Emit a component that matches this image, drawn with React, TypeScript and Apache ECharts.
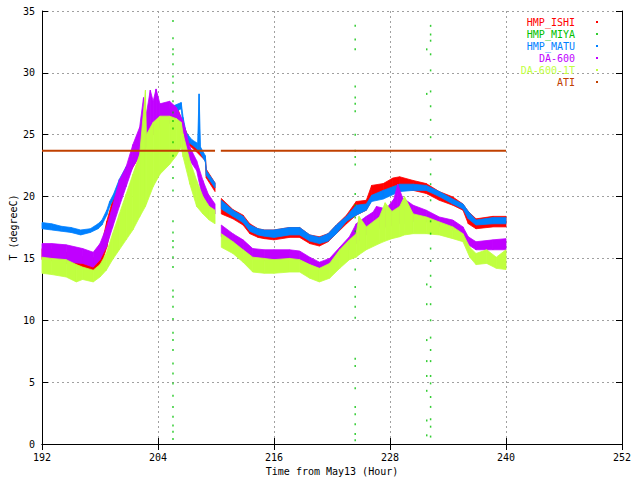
import React, { useEffect, useRef } from "react";
import * as echarts from "echarts";

const FONT = "'DejaVu Sans Mono', 'Liberation Mono', monospace";

const SERIES_NAMES = ["HMP_ISHI", "HMP_MIYA", "HMP_MATU", "DA-600", "DA-600-1T", "ATI"];
const SERIES_COLORS = ["#ff0000", "#00c000", "#0080ff", "#c000ff", "#c0ff40", "#c04000"];

// [hour, low, high] envelopes
const ISHI_A = [
  [192, 14.9, 15.8], [193, 14.8, 15.7], [194, 14.7, 15.6], [195, 14.5, 15.4], [196, 14.3, 15.2],
  [197, 14.0, 15.0], [197.6, 14.1, 15.1], [198.2, 14.7, 16.2], [198.7, 15.9, 18.0], [199.2, 17.8, 19.4],
  [199.6, 19.0, 20.4], [200, 20.2, 21.1], [201, 21.8, 22.6], [202, 23.2, 24.0], [203, 24.5, 25.3],
  [204, 25.5, 26.3], [205, 26.2, 27.0], [206, 26.4, 27.2], [206.6, 25.3, 25.9], [207.3, 24.1, 24.5],
  [208, 23.6, 23.9], [208.9, 22.9, 23.2], [209.0, 21.5, 22.2], [209.9, 20.4, 21.1],
];
const ISHI_B = [
  [210.55, 18.6, 19.85], [211.75, 18.2, 18.95], [212.8, 17.7, 18.5], [213.5, 17.0, 17.8], [214.35, 16.7, 17.4],
  [215, 16.6, 17.3], [216, 16.5, 17.3], [217.6, 16.7, 17.5], [218.65, 16.7, 17.5], [219.7, 16.2, 16.9],
  [220.7, 16.0, 16.75], [221.6, 16.35, 17.0], [222.45, 17.0, 17.7], [223.5, 17.8, 18.5], [224.5, 18.5, 19.6],
  [225.55, 18.9, 19.7], [226.1, 19.7, 20.9], [227.3, 19.97, 21.05], [228.3, 20.3, 21.5], [229, 20.65, 21.6],
  [230.4, 20.5, 21.3], [231.75, 20.25, 21.05], [233.1, 19.7, 20.4], [234.5, 19.3, 19.97], [235.55, 18.9, 19.4],
  [236.1, 17.8, 18.8], [236.9, 17.4, 18.2], [238.65, 17.55, 18.4], [240, 17.55, 18.4],
];

const MATU_A = [
  [192, 17.4, 17.9], [193, 17.3, 17.8], [194, 17.2, 17.6], [195, 17.1, 17.5], [196, 16.9, 17.3],
  [197, 17.1, 17.4], [197.8, 17.4, 17.8], [198.2, 17.7, 18.1], [198.7, 18.5, 18.9], [199.0, 19.2, 19.6],
  [199.4, 19.8, 20.2], [200, 20.9, 21.4], [200.7, 21.9, 22.4], [201.4, 22.6, 23.1], [202.1, 23.6, 24.1],
  [203.1, 24.9, 25.4], [204.0, 25.8, 26.3], [204.5, 26.1, 26.6], [205.5, 26.7, 27.3], [206.4, 27.1, 27.6],
  [206.6, 25.6, 26.4], [206.9, 24.5, 25.2], [207.5, 24.2, 24.6], [208.1, 23.8, 24.3], [208.25, 23.7, 28.3],
  [208.4, 23.5, 24.0], [208.9, 22.8, 23.3], [209.0, 21.7, 22.1], [209.9, 20.7, 21.1],
];
const MATU_B = [
  [210.55, 19.0, 19.7], [211.75, 18.4, 18.9], [212.8, 17.9, 18.4], [213.5, 17.2, 17.7], [214.35, 16.9, 17.4],
  [215, 16.8, 17.3], [216, 16.7, 17.3], [217.6, 16.9, 17.5], [218.65, 16.9, 17.5], [219.7, 16.4, 16.9],
  [220.7, 16.2, 16.7], [221.6, 16.4, 17.0], [222.45, 17.0, 17.7], [223.5, 18.0, 18.4], [224.5, 18.5, 19.3],
  [225.55, 18.9, 19.4], [226.1, 19.6, 20.1], [227.3, 19.8, 20.5], [229, 20.4, 21.0], [230.4, 20.5, 21.0],
  [231.75, 20.5, 20.9], [233.1, 20.0, 20.4], [234.5, 19.4, 19.8], [235.55, 19.0, 19.4], [236.1, 18.2, 18.8],
  [236.9, 17.7, 18.1], [238.65, 17.8, 18.3], [240, 17.8, 18.3],
];

const DA600_A = [
  [192, 15.1, 16.2], [193, 15.0, 16.2], [194.5, 14.7, 16.1], [196.2, 14.6, 15.8], [197.3, 14.3, 15.5],
  [198, 14.9, 16.2], [198.65, 15.9, 17.5], [199.3, 17.5, 19.2], [200, 19.2, 21.3], [200.7, 20.8, 22.4],
  [201.4, 22.4, 24.2], [202.1, 23.2, 25.6], [202.5, 23.6, 28.0], [202.8, 24.0, 26.7], [203.2, 24.5, 28.6],
  [203.5, 25.05, 27.7], [203.8, 25.3, 28.7], [204.2, 25.6, 27.5], [205.2, 25.9, 27.7], [205.9, 26.4, 27.2],
  [206.6, 24.8, 26.1], [207.3, 22.9, 24.0], [208, 22.1, 22.9], [208.65, 19.7, 21.3], [209.2, 19.2, 20.2],
  [209.9, 18.6, 19.4],
];
const DA600_B = [
  [210.55, 16.75, 17.7], [211.75, 16.2, 17.0], [212.8, 15.7, 16.5], [213.8, 15.0, 15.8], [215, 14.8, 15.7],
  [216, 14.7, 15.7], [217.6, 14.9, 15.7], [218.65, 14.8, 15.6], [219.7, 14.5, 15.1], [220.7, 14.1, 14.7],
  [221.75, 14.3, 15.0], [222.8, 15.1, 15.9], [223.8, 15.7, 16.75], [224.5, 16.2, 17.8], [225.55, 16.9, 18.4],
  [226.25, 17.4, 18.75], [226.6, 17.4, 19.2], [227.6, 17.55, 19.0], [228.4, 17.7, 19.8], [228.8, 17.8, 21.0],
  [229.3, 17.8, 19.9], [230.4, 18.0, 19.3], [231.75, 17.95, 18.9], [233.1, 17.55, 18.35], [234.5, 17.3, 18.1],
  [235.55, 16.75, 17.55], [236.1, 16.1, 16.75], [236.9, 15.7, 16.35], [238.65, 15.7, 16.5], [240, 15.7, 16.6],
];

const DA6001T_A = [
  [192, 13.8, 15.1], [193, 13.7, 15.0], [194.5, 13.5, 14.9], [195.55, 13.1, 14.5], [196.2, 13.3, 14.3],
  [197.3, 13.1, 14.05], [198, 13.5, 14.5], [198.65, 14.05, 15.4], [199.3, 14.9, 17.0], [200, 15.7, 18.6],
  [200.7, 16.5, 20.2], [201.4, 17.3, 21.8], [202.1, 18.35, 23.4], [202.7, 19.2, 28.6], [202.8, 19.4, 25.0],
  [203.5, 20.8, 26.0], [204.2, 21.8, 26.5], [205.2, 22.6, 26.5], [205.9, 23.3, 26.3], [206.4, 24.0, 26.0],
  [206.6, 23.2, 25.05], [207.3, 21.0, 22.9], [208, 19.2, 21.3], [208.65, 18.6, 20.0], [209.3, 18.1, 19.2],
  [209.9, 17.8, 18.9],
];
const DA6001T_B = [
  [210.55, 15.9, 17.0], [211.75, 15.4, 16.35], [212.8, 14.7, 15.7], [213.8, 13.9, 15.1], [215, 13.8, 15.0],
  [216, 13.8, 14.9], [217.6, 13.9, 15.0], [218.65, 13.9, 14.9], [219.7, 13.4, 14.5], [220.7, 13.1, 14.2],
  [221.75, 13.4, 14.6], [222.8, 14.2, 15.7], [223.8, 14.9, 16.5], [224.5, 15.1, 17.0], [224.8, 15.3, 18.4],
  [225.55, 15.7, 17.55], [226.9, 16.2, 18.35], [227.5, 16.4, 19.5], [228.2, 16.6, 18.8], [229, 16.75, 19.2],
  [229.5, 16.9, 20.0], [230.4, 17.0, 18.6], [231.75, 17.0, 18.35], [233.1, 16.9, 17.95], [234.5, 16.6, 17.55],
  [235.55, 16.35, 17.0], [236.25, 15.1, 15.9], [236.9, 14.5, 15.4], [238, 14.6, 15.7], [239, 14.2, 15.1],
  [240, 14.1, 15.7],
];

// ATI: constant reading, with a gap around hour 210
const ATI_A = [[192, 23.7], [209.9, 23.7]];
const ATI_B = [[210.5, 23.7], [240, 23.7]];

// HMP_MIYA: sparse outlier dots in a few columns
const MIYA_HOURS = [205.55, 224.4, 232.2, 231.8];
const MIYA_T1 = [34.2, 32.8, 31.9, 31.5, 30.7, 29.7, 29.2, 28.5, 27.7, 26.8, 26.1, 25.5, 24.4, 23.3, 22.4, 21.5, 20.5, 18.0, 17.1, 16.4, 15.9, 15.1, 14.3, 12.4, 11.9, 11.1, 10.1, 9.0, 8.4, 7.6, 6.5, 5.7, 4.9, 3.9, 3.0, 2.2, 1.5, 1.0, 0.4];
const MIYA_T2 = [33.8, 32.7, 31.9, 28.9, 28.0, 27.5, 26.9, 25.0, 23.7, 23.2, 22.6, 20.2, 19.3, 18.3, 17.2, 14.1, 12.7, 11.9, 11.1, 10.2, 6.9, 6.3, 4.5, 3.0, 2.4, 1.6, 0.8, 0.3];
const MIYA_T3 = [33.8, 33.1, 32.6, 31.5, 30.2, 28.5, 27.3, 26.2, 24.8, 23.0, 21.8, 21.0, 19.7, 18.0, 17.0, 15.8, 14.8, 13.6, 12.7, 11.3, 10.0, 8.6, 7.6, 6.7, 5.5, 4.9, 3.8, 3.0, 2.0, 1.4, 0.6];
const MIYA_T4 = [31.9, 28.3, 12.9, 11.3, 8.4, 6.7, 5.5, 4.3, 1.9, 0.7];

const X_MIN = 192, X_MAX = 252, X_STEP = 12;
const Y_MIN = 0, Y_MAX = 35, Y_STEP = 5;

// band drawn as quads between consecutive envelope samples, positioned via api.coord
function bandSeries(name: string, color: string, seg: number[][]) {
  return {
    name,
    type: "custom",
    animation: false,
    itemStyle: { color },
    encode: { x: 0, y: [1, 2] },
    data: seg,
    renderItem: (params: any, api: any) => {
      const i = params.dataIndex;
      if (i >= seg.length - 1) return null;
      const a = seg[i];
      const b = seg[i + 1];
      const pts = [
        api.coord([a[0], a[1]]),
        api.coord([b[0], b[1]]),
        api.coord([b[0], b[2]]),
        api.coord([a[0], a[2]]),
      ];
      return {
        type: "polygon",
        shape: { points: pts },
        style: { fill: color, stroke: color, lineWidth: 0.8 },
      };
    },
  };
}

export default function App() {
  const ref = useRef<HTMLDivElement>(null);
  useEffect(() => {
    if (!ref.current) return;
    const chart = echarts.init(ref.current, null, { renderer: "svg" });
    const miyaData = [
      ...MIYA_T1.map((t) => [MIYA_HOURS[0], t]),
      ...MIYA_T2.map((t) => [MIYA_HOURS[1], t]),
      ...MIYA_T3.map((t) => [MIYA_HOURS[2], t]),
      ...MIYA_T4.map((t) => [MIYA_HOURS[3], t]),
    ];
    const axisCommon = {
      axisLine: { show: true, lineStyle: { color: "#000", width: 1 } },
      axisTick: { show: true, inside: true, length: 6, lineStyle: { color: "#000" } },
    };
    const option: any = {
      animation: false,
      backgroundColor: "#ffffff",
      textStyle: { fontFamily: FONT },
      grid: { left: 42, right: 18, top: 11, bottom: 36, containLabel: false, outerBoundsMode: "none" },
      legend: {
        orient: "vertical",
        align: "right",
        right: 42,
        top: 16,
        padding: 0,
        itemGap: 0,
        itemWidth: 2,
        itemHeight: 2,
        selectedMode: false,
        textStyle: { fontFamily: FONT, fontSize: 10, lineHeight: 12, padding: [0, 16, 0, 0] },
        data: SERIES_NAMES.map((n, i) => ({
          name: n, icon: "rect", itemStyle: { color: SERIES_COLORS[i] },
          textStyle: { color: SERIES_COLORS[i] },
        })),
      },
      xAxis: [
        {
          type: "value", min: X_MIN, max: X_MAX, interval: X_STEP, position: "bottom",
          name: "Time from May13 (Hour)", nameLocation: "middle", nameGap: 22, nameMoveOverlap: false,
          nameTextStyle: { fontFamily: FONT, fontSize: 10, color: "#000" },
          axisLabel: { fontFamily: FONT, fontSize: 10, color: "#000", margin: 8 },
          splitLine: { show: true, lineStyle: { color: "#a0a0a0", type: [2, 3], width: 1 } },
          ...axisCommon,
        },
        {
          type: "value", min: X_MIN, max: X_MAX, interval: X_STEP, position: "top",
          axisLabel: { show: false }, splitLine: { show: false },
          ...axisCommon,
        },
      ],
      yAxis: [
        {
          type: "value", min: Y_MIN, max: Y_MAX, interval: Y_STEP, position: "left",
          name: "T (degreeC)", nameLocation: "middle", nameGap: 24, nameMoveOverlap: false,
          nameTextStyle: { fontFamily: FONT, fontSize: 10, color: "#000" },
          axisLabel: { fontFamily: FONT, fontSize: 10, color: "#000", margin: 7 },
          splitLine: { show: true, lineStyle: { color: "#a0a0a0", type: [2, 3], width: 1 } },
          ...axisCommon,
        },
        {
          type: "value", min: Y_MIN, max: Y_MAX, interval: Y_STEP, position: "right",
          axisLabel: { show: false }, splitLine: { show: false },
          ...axisCommon,
        },
      ],
      series: [
        bandSeries(SERIES_NAMES[0], SERIES_COLORS[0], ISHI_A),
        bandSeries(SERIES_NAMES[0], SERIES_COLORS[0], ISHI_B),
        {
          name: SERIES_NAMES[1], type: "scatter", symbol: "rect", symbolSize: [1.5, 2],
          data: miyaData, itemStyle: { color: SERIES_COLORS[1] }, animation: false,
        },
        bandSeries(SERIES_NAMES[2], SERIES_COLORS[2], MATU_A),
        bandSeries(SERIES_NAMES[2], SERIES_COLORS[2], MATU_B),
        bandSeries(SERIES_NAMES[3], SERIES_COLORS[3], DA600_A),
        bandSeries(SERIES_NAMES[3], SERIES_COLORS[3], DA600_B),
        bandSeries(SERIES_NAMES[4], SERIES_COLORS[4], DA6001T_A),
        bandSeries(SERIES_NAMES[4], SERIES_COLORS[4], DA6001T_B),
        {
          name: SERIES_NAMES[5], type: "line", symbol: "none", data: ATI_A,
          lineStyle: { color: SERIES_COLORS[5], width: 2 }, itemStyle: { color: SERIES_COLORS[5] }, animation: false,
        },
        {
          name: SERIES_NAMES[5], type: "line", symbol: "none", data: ATI_B,
          lineStyle: { color: SERIES_COLORS[5], width: 2 }, itemStyle: { color: SERIES_COLORS[5] }, animation: false,
        },
      ],
    };
    chart.setOption(option);
    return () => chart.dispose();
  }, []);
  return (
    <div
      ref={ref}
      style={{ position: "absolute", left: 0, top: 0, width: 640, height: 480, background: "#fff" }}
    />
  );
}
